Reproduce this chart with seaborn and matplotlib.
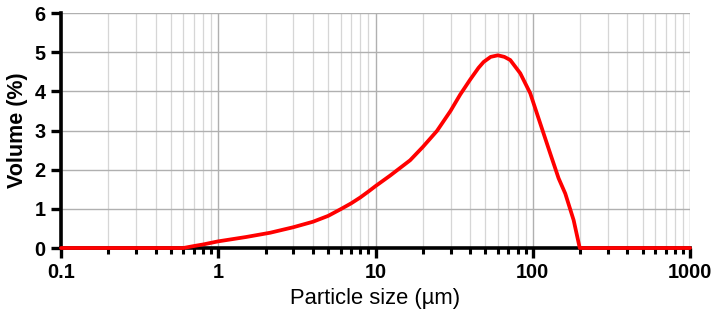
import matplotlib
matplotlib.use("Agg")
import matplotlib.pyplot as plt
import seaborn as sns
import numpy as np
import pandas as pd
from matplotlib.ticker import LogLocator, FixedLocator, NullFormatter

size_um = [0.1, 0.6, 0.7, 0.8, 1.0, 1.5, 2.14, 3.0, 4.0, 5.0, 6.0, 7.0, 8.0, 9.0,
           10.0, 12.4, 16.6, 20.0, 24.6, 30.0, 34.6, 40.0, 45.2, 48.7, 54.0, 60.0,
           66.0, 71.9, 83.3, 96.4, 111.6, 129.0, 146.0, 161.0, 182.0, 199.0, 1000.0]
volume_pct = [0.0, 0.0, 0.05, 0.09, 0.17, 0.28, 0.39, 0.53, 0.67, 0.82, 0.99, 1.14, 1.29, 1.44,
              1.58, 1.85, 2.24, 2.58, 2.99, 3.50, 3.92, 4.30, 4.60, 4.75, 4.88, 4.92,
              4.88, 4.80, 4.46, 3.95, 3.18, 2.42, 1.78, 1.39, 0.71, 0.0, 0.0]
x_ticks = [0.1, 1, 10, 100, 1000]
x_tick_labels = ["0.1", "1", "10", "100", "1000"]
y_ticks = [0, 1, 2, 3, 4, 5, 6]

df = pd.DataFrame({"size": size_um, "volume": volume_pct})

sns.set_style("white")
plt.rcParams["font.family"] = ["Liberation Sans", "DejaVu Sans"]

fig = plt.figure(figsize=(7.16, 3.26), dpi=100)
ax = fig.add_axes([61/716, 1 - 248/326, (690-61)/716, (248-13)/326])

ax.set_xscale("log")
ax.set_xlim(0.1, 1000)
ax.set_ylim(0, 6)

ax.xaxis.set_major_locator(FixedLocator(x_ticks))
ax.xaxis.set_minor_locator(LogLocator(base=10, subs=np.arange(2, 10)))
ax.xaxis.set_minor_formatter(NullFormatter())
ax.set_xticklabels(x_tick_labels)
ax.set_yticks(y_ticks)

ax.grid(True, which="major", axis="both", color="#b0b0b0", linewidth=1.0)
ax.grid(True, which="minor", axis="x", color="#d6d6d6", linewidth=0.9)
ax.set_axisbelow(True)

sns.lineplot(data=df, x="size", y="volume", ax=ax, color="#ff0000", linewidth=2.7,
             clip_on=False, zorder=5)

for s in ["top", "right"]:
    ax.spines[s].set_visible(False)
for s in ["left", "bottom"]:
    ax.spines[s].set_linewidth(2.6)
    ax.spines[s].set_color("black")
    ax.spines[s].set_zorder(4)

ax.tick_params(axis="both", which="both", bottom=True, left=True, top=False, right=False)
ax.tick_params(axis="both", which="major", direction="out", length=7, width=2.4,
               color="black", labelsize=14.3, pad=4, labelcolor="black")
ax.tick_params(axis="x", which="minor", direction="out", length=4.5, width=2.2, color="black")
for lbl in ax.get_xticklabels() + ax.get_yticklabels():
    lbl.set_fontweight("bold")

ax.set_xlabel("Particle size (µm)", fontsize=15.8, labelpad=4, color="black")
ax.set_ylabel("Volume (%)", fontsize=15.5, fontweight="bold", labelpad=5, color="black")

fig.savefig("out.png", dpi=100)
